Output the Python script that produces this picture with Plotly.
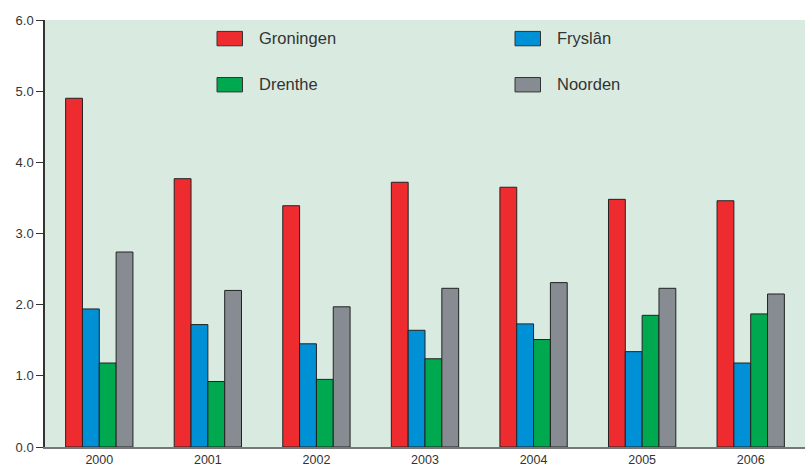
import plotly.graph_objects as go

years = ["2000", "2001", "2002", "2003", "2004", "2005", "2006"]
groningen = [4.90, 3.77, 3.39, 3.72, 3.65, 3.48, 3.46]
fryslan = [1.94, 1.72, 1.45, 1.64, 1.73, 1.34, 1.18]
drenthe = [1.18, 0.92, 0.95, 1.24, 1.51, 1.85, 1.87]
noorden = [2.74, 2.20, 1.97, 2.23, 2.31, 2.23, 2.15]

series = [
    ("Groningen", groningen, "#ee2c2f"),
    ("Fryslân", fryslan, "#0090d6"),
    ("Drenthe", drenthe, "#00a850"),
    ("Noorden", noorden, "#878c93"),
]

W, H = 805, 467
L, R, T, B = 45, 0, 19.5, 17
FONT = "Liberation Sans, Arial, sans-serif"

fig = go.Figure()
for name, vals, color in series:
    fig.add_trace(go.Bar(
        x=years, y=vals, name=name,
        marker=dict(color=color, line=dict(color="#222222", width=1)),
        showlegend=False,
    ))


def px_to_paper(x, y):
    return (x - L) / (W - L - R), (H - B - y) / (H - T - B)


# legend drawn by hand so swatches match the original size
legend_pos = [(217, 31), (515, 31), (217, 77.5), (515, 77.5)]
for (name, _, color), (sx, sy) in zip(series, legend_pos):
    x0, y0 = px_to_paper(sx, sy)
    x1, y1 = px_to_paper(sx + 25.5, sy + 14.5)
    fig.add_shape(type="rect", xref="paper", yref="paper",
                  x0=x0, x1=x1, y0=y1, y1=y0,
                  fillcolor=color, line=dict(color="#333333", width=1))
    tx, ty = px_to_paper(sx + 40, sy + 7)
    fig.add_annotation(x=tx, y=ty, xref="paper", yref="paper", text=name,
                       showarrow=False, xanchor="left", yanchor="middle",
                       font=dict(size=16.5, color="#333333", family=FONT))

fig.update_layout(
    width=W, height=H,
    margin=dict(l=L, r=R, t=T, b=B),
    plot_bgcolor="#d9ebe0", paper_bgcolor="white",
    barmode="group", bargap=0.38, bargroupgap=0,
    font=dict(family=FONT, size=13, color="#333333"),
)
fig.update_yaxes(
    range=[0, 6], dtick=1, tickformat=".1f",
    showgrid=False, zeroline=False,
    showline=True, linecolor="#333333", linewidth=1.5,
    ticks="outside", ticklen=7, tickcolor="#333333",
    tickfont=dict(size=13, color="#333333"),
)
fig.update_xaxes(
    showgrid=False, showline=True, linecolor="#777777", linewidth=1.5,
    ticks="", tickfont=dict(size=12.5, color="#333333"),
)

fig.write_html("out.html", config={"displayModeBar": False},
               post_script="document.body.style.margin='0';")
